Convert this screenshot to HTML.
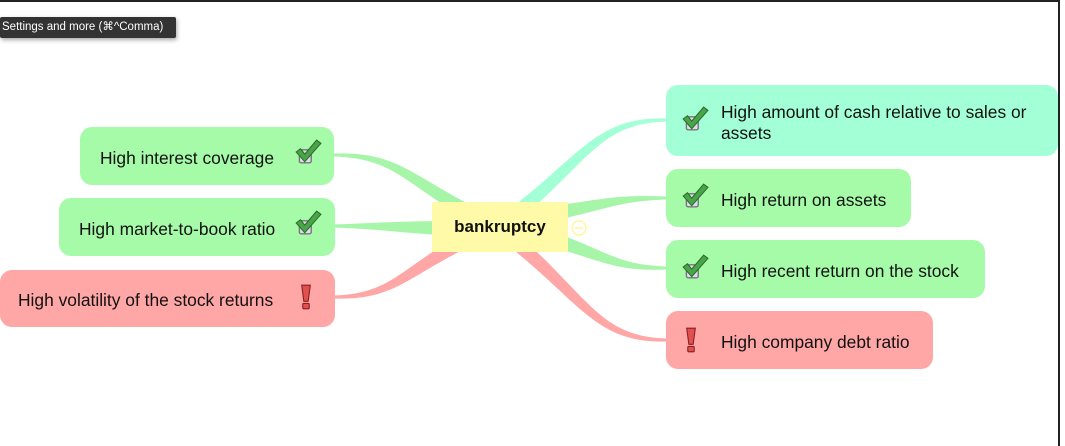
<!DOCTYPE html>
<html><head><meta charset="utf-8"><style>
html,body{margin:0;padding:0;background:#fff;}
body{width:1065px;height:446px;position:relative;overflow:hidden;font-family:"Liberation Sans",Arial,sans-serif;}
.n{position:absolute;border-radius:12px;font-size:17.4px;color:#111;box-sizing:border-box;}
.n span{position:absolute;white-space:nowrap;}
.g{background:#a6fba8;}
.r{background:#ffa6a6;}
.m{background:#a2ffd6;}
.ic{position:absolute;width:28px;height:28px;}
</style></head><body>
<div style="position:absolute;left:0;top:0;width:1060px;height:2px;background:#222"></div>
<div style="position:absolute;left:1058px;top:0;width:2px;height:446px;background:#222"></div>
<svg id="cn" width="1065" height="446" style="position:absolute;left:0;top:0"></svg>

<div style="position:absolute;left:0;top:17px;width:176px;height:21px;background:#333;border-radius:2px;box-shadow:1px 2px 4px rgba(0,0,0,.35);color:#fff;font-size:11.5px;line-height:21px;padding-left:2px;box-sizing:border-box;white-space:nowrap">Settings and more (⌘^Comma)</div>

<div class="n g" style="left:80px;top:127px;width:254px;height:58px"><span style="left:20px;top:21px">High interest coverage</span></div>
<div class="n g" style="left:59px;top:198px;width:276px;height:58px"><span style="left:20px;top:21px">High market-to-book ratio</span></div>
<div class="n r" style="left:0;top:270px;width:335px;height:57px"><span style="left:18px;top:20px">High volatility of the stock returns</span></div>

<div style="position:absolute;left:432px;top:202px;width:136px;height:50px;background:#fffaa8;font-weight:bold;font-size:17px;line-height:50px;text-align:center;color:#111">bankruptcy</div>
<svg style="position:absolute;left:570px;top:219px" width="18" height="18"><circle cx="9" cy="9" r="7" fill="none" stroke="#fff6a0" stroke-width="1.5"/><line x1="5" y1="9" x2="13" y2="9" stroke="#fff6a0" stroke-width="1.5"/></svg>

<div class="n m" style="left:666px;top:85px;width:392px;height:71px"><span style="left:55px;top:17px;line-height:21px">High amount of cash relative to sales or<br>assets</span></div>
<div class="n g" style="left:666px;top:169px;width:245px;height:58px"><span style="left:55px;top:21px">High return on assets</span></div>
<div class="n g" style="left:666px;top:240px;width:319px;height:58px"><span style="left:55px;top:21px">High recent return on the stock</span></div>
<div class="n r" style="left:666px;top:311px;width:267px;height:58px"><span style="left:55px;top:21px">High company debt ratio</span></div>

<script>
var ck='<svg class="ic" viewBox="0 0 26 26"><rect x="5" y="11" width="11" height="12" rx="1.5" fill="#dde" stroke="#777" stroke-width="1.3"/><path d="M2 13 L6 10 L10 15 L21 2 L25 5 L10 22 Z" fill="#4aa54a" stroke="#2d6e2d" stroke-width="1"/></svg>';
var ex='<svg class="ic" viewBox="0 0 26 26"><path d="M9 2 L17 2 L15 17 L11 17 Z" fill="#e05050" stroke="#8a1f1f" stroke-width="1"/><rect x="10" y="19" width="6" height="5" rx="1" fill="#e05050" stroke="#8a1f1f" stroke-width="1"/></svg>';
function ic(s,x,y){var d=document.createElement('div');d.innerHTML=s;var e=d.firstChild;e.style.left=x+'px';e.style.top=y+'px';document.body.appendChild(e);}
ic(ck,294,138);ic(ck,294,209);ic(ex,292,283);
ic(ck,681,105);ic(ck,681,182);ic(ck,681,253);ic(ex,677,326);
function taper(x0,y0,x1,y1,w0,w1,col){
 var c1=[x0+(x1-x0)*0.45,y0+(y1-y0)*0.6],c2=[x1-(x1-x0)*0.45,y1];
 var L=[],R=[],N=50;
 for(var i=0;i<=N;i++){var t=i/N,u=1-t;
  var x=u*u*u*x0+3*u*u*t*c1[0]+3*u*t*t*c2[0]+t*t*t*x1;
  var y=u*u*u*y0+3*u*u*t*c1[1]+3*u*t*t*c2[1]+t*t*t*y1;
  var dx=3*u*u*(c1[0]-x0)+6*u*t*(c2[0]-c1[0])+3*t*t*(x1-c2[0]);
  var dy=3*u*u*(c1[1]-y0)+6*u*t*(c2[1]-c1[1])+3*t*t*(y1-c2[1]);
  var l=Math.hypot(dx,dy)||1,nx=-dy/l,ny=dx/l,w=(w0+(w1-w0)*t)/2;
  L.push((x+nx*w).toFixed(1)+','+(y+ny*w).toFixed(1));R.unshift((x-nx*w).toFixed(1)+','+(y-ny*w).toFixed(1));}
 var p=document.createElementNS('http://www.w3.org/2000/svg','polygon');
 p.setAttribute('points',L.concat(R).join(' '));p.setAttribute('fill',col);
 document.getElementById('cn').appendChild(p);}
taper(465,210,334,155,14,3,'#a6f5a8');
taper(440,228,334,226,14,3,'#a6f5a8');
taper(455,246,334,297,14,3,'#ffa6a6');
taper(520,210,666,120,14,3,'#a2ffd6');
taper(560,212,666,198,14,3,'#a6f5a8');
taper(560,242,666,268,14,3,'#a6f5a8');
taper(520,246,666,340,14,3,'#ffa6a6');
</script>
</body></html>
